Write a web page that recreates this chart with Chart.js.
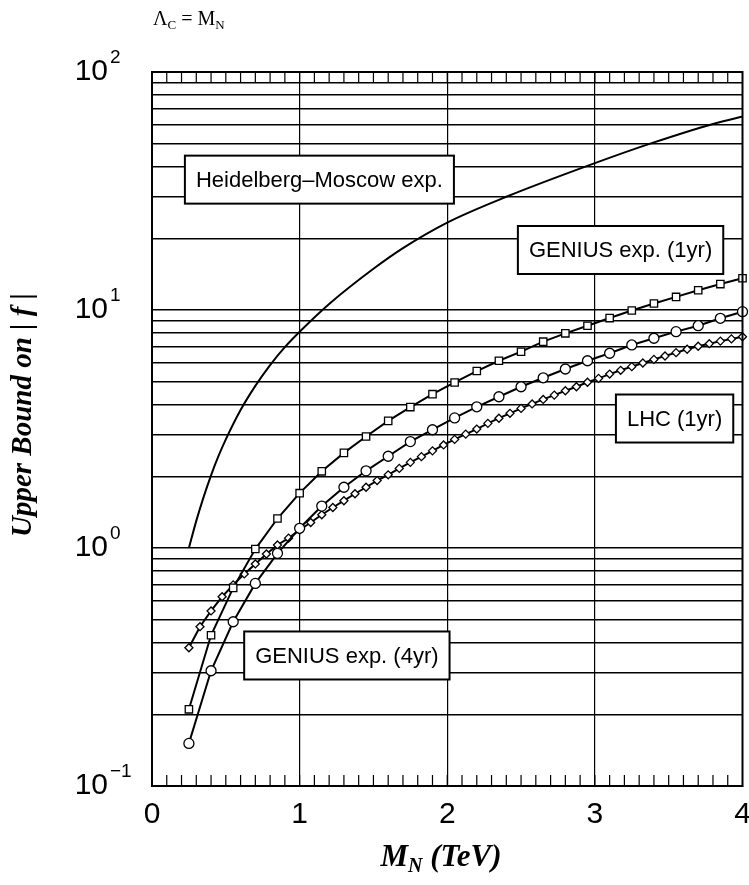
<!DOCTYPE html>
<html><head><meta charset="utf-8">
<script src="https://cdn.jsdelivr.net/npm/chart.js@4.4.1/dist/chart.umd.min.js"></script>
<style>html,body{margin:0;padding:0;background:#fff;overflow:hidden;} canvas{display:block;}</style>
</head><body>
<canvas id="c" width="749" height="885"></canvas>
<script>
// ---- data ----
const massHM = [0.25,0.30,0.35,0.40,0.45,0.50,0.60,0.70,0.80,0.90,1.00,1.20,1.50,1.70,2.00,2.40,3.00,3.40,3.80,4.00];
const boundHM = [1.0,1.30,1.64,2.02,2.43,2.86,3.80,4.80,5.87,6.98,8.1,10.6,14.9,18.2,23.3,29.9,41.4,50.6,60.5,65];

const massGenius = [0.25,0.40,0.55,0.70,0.85,1.00,1.15,1.30,1.45,1.60,1.75,1.90,2.05,2.20,2.35,2.50,2.65,2.80,2.95,3.10,3.25,3.40,3.55,3.70,3.85,4.00];
const boundGenius1yr = [0.21,0.43,0.68,0.99,1.33,1.70,2.10,2.51,2.94,3.42,3.91,4.43,4.96,5.54,6.12,6.68,7.36,7.98,8.59,9.25,9.95,10.65,11.35,12.1,12.85,13.6];
const boundGenius4yr = [0.151,0.305,0.49,0.71,0.95,1.21,1.50,1.80,2.11,2.43,2.80,3.14,3.52,3.92,4.32,4.76,5.19,5.65,6.12,6.58,7.13,7.61,8.11,8.59,9.23,9.84];

const massLHC = [0.25,0.325,0.40,0.475,0.55,0.625,0.70,0.775,0.85,0.925,1.00,1.075,1.15,1.225,1.30,1.375,1.45,1.525,1.60,1.675,1.75,1.825,1.90,1.975,2.05,2.125,2.20,2.275,2.35,2.425,2.50,2.575,2.65,2.725,2.80,2.875,2.95,3.025,3.10,3.175,3.25,3.325,3.40,3.475,3.55,3.625,3.70,3.775,3.85,3.925,4.00];
const boundLHC = [0.381,0.467,0.544,0.624,0.70,0.778,0.857,0.944,1.03,1.10,1.19,1.28,1.38,1.48,1.58,1.69,1.80,1.92,2.03,2.16,2.29,2.42,2.56,2.71,2.86,3.01,3.16,3.34,3.51,3.68,3.86,4.03,4.21,4.39,4.58,4.76,4.97,5.16,5.38,5.58,5.78,5.99,6.20,6.41,6.62,6.84,7.04,7.22,7.40,7.56,7.72];

const xTickLabels = ['0','1','2','3','4'];
const yGridValues = [0.1,0.2,0.3,0.4,0.5,0.6,0.7,0.8,0.9,1,2,3,4,5,6,7,8,9,10,20,30,40,50,60,70,80,90,100];
const yDecades = [0.1,1,10,100];
const yExponents = ['\u22121','0','1','2'];

const boxLabels = [
  {text:'Heidelberg\u2013Moscow exp.', x:1.134, y:35.3},
  {text:'GENIUS exp. (1yr)', x:3.174, y:17.87},
  {text:'LHC (1yr)', x:3.54, y:3.50},
  {text:'GENIUS exp. (4yr)', x:1.32, y:0.3535}
];

// ---- helpers ----
const pts = (xs, ys) => xs.map((m, i) => ({x: m, y: ys[i]}));
const SANS = 'Liberation Sans, Arial, Helvetica, sans-serif';
const SERIF = 'Liberation Serif, Times New Roman, serif';
const Y_LABEL_PAD = 44;

const deco = {
  id: 'deco',
  beforeDraw(chart) {
    const c = chart.ctx;
    c.save(); c.fillStyle = '#fff'; c.fillRect(0, 0, chart.width, chart.height); c.restore();
  },
  afterDraw(chart) {
    const c = chart.ctx, a = chart.chartArea, xs = chart.scales.x, ys = chart.scales.y;
    c.save();
    // frame
    c.strokeStyle = '#000'; c.lineWidth = 2;
    c.strokeRect(a.left, a.top, a.right - a.left, a.bottom - a.top);
    // inward minor ticks on top and bottom
    c.lineWidth = 1.2;
    for (let i = 1; i < 40; i++) {
      const px = xs.getPixelForValue(i / 10);
      c.beginPath();
      c.moveTo(px, a.bottom); c.lineTo(px, a.bottom - 11);
      c.moveTo(px, a.top); c.lineTo(px, a.top + 11);
      c.stroke();
    }
    // exponents of y tick labels
    c.fillStyle = '#000';
    c.font = '19px ' + SANS;
    c.textAlign = 'left'; c.textBaseline = 'middle';
    yDecades.forEach((v, i) => {
      const py = ys.getPixelForValue(v);
      c.fillText(yExponents[i], a.left - Y_LABEL_PAD + 2, py - 14);
    });
    // y axis title
    c.save();
    c.translate(24, 415); c.rotate(-Math.PI / 2);
    c.font = 'italic bold 29px ' + SERIF;
    c.textAlign = 'center'; c.textBaseline = 'middle';
    c.fillText('Upper Bound on | f |', 0, 0);
    c.restore();
    // x axis title  M_N (TeV)
    const tf = 'italic bold 31px ' + SERIF, sf = 'italic bold 20px ' + SERIF;
    c.textAlign = 'left'; c.textBaseline = 'alphabetic';
    c.font = tf; const wM = c.measureText('M').width;
    c.font = sf; const wN = c.measureText('N').width;
    c.font = tf; const wR = c.measureText(' (TeV)').width;
    let tx = 441 - (wM + wN + wR) / 2; const ty = 866;
    c.font = tf; c.fillText('M', tx, ty); tx += wM;
    c.font = sf; c.fillText('N', tx, ty + 6); tx += wN;
    c.font = tf; c.fillText(' (TeV)', tx, ty);
    // header  Λ_C = M_N
    const hf = '20px ' + SERIF, hs = '13px ' + SERIF;
    let hx = 153; const hy = 25;
    c.font = hf; c.fillText('\u039B', hx, hy); hx += c.measureText('\u039B').width;
    c.font = hs; c.fillText('C', hx, hy + 4); hx += c.measureText('C').width;
    c.font = hf; c.fillText(' = M', hx, hy); hx += c.measureText(' = M').width;
    c.font = hs; c.fillText('N', hx, hy + 4);
    // label boxes
    c.font = '22px ' + SANS;
    c.textAlign = 'center'; c.textBaseline = 'middle';
    boxLabels.forEach(b => {
      const cx = xs.getPixelForValue(b.x), cy = ys.getPixelForValue(b.y);
      const w = c.measureText(b.text).width + 22, h = 48;
      c.fillStyle = '#fff';
      c.fillRect(cx - w / 2, cy - h / 2, w, h);
      c.lineWidth = 2; c.strokeStyle = '#000';
      c.strokeRect(cx - w / 2, cy - h / 2, w, h);
      c.fillStyle = '#000';
      c.fillText(b.text, cx, cy + 1);
    });
    c.restore();
  }
};

const markerCommon = {borderColor: '#000', borderWidth: 2, pointBackgroundColor: '#fff', pointBorderColor: '#000', pointBorderWidth: 1.3, tension: 0, clip: false, fill: false};

new Chart(document.getElementById('c'), {
  type: 'line',
  data: {
    datasets: [
      {label: 'Heidelberg\u2013Moscow exp.', data: pts(massHM, boundHM), borderColor: '#000', borderWidth: 2, pointRadius: 0, cubicInterpolationMode: 'monotone', fill: false},
      Object.assign({label: 'GENIUS exp. (1yr)', data: pts(massGenius, boundGenius1yr), pointStyle: 'rect', pointRadius: 5.2}, markerCommon),
      Object.assign({label: 'GENIUS exp. (4yr)', data: pts(massGenius, boundGenius4yr), pointStyle: 'circle', pointRadius: 5}, markerCommon),
      Object.assign({label: 'LHC (1yr)', data: pts(massLHC, boundLHC), pointStyle: 'rectRot', pointRadius: 4}, markerCommon)
    ]
  },
  options: {
    responsive: false, animation: false, devicePixelRatio: 1,
    layout: {padding: {top: 72, right: 6, bottom: 0, left: 0}},
    plugins: {legend: {display: false}, tooltip: {enabled: false}},
    scales: {
      x: {
        type: 'linear', min: 0, max: 4,
        ticks: {stepSize: 1, autoSkip: false, maxRotation: 0, color: '#000', padding: 11,
                font: {family: SANS, size: 30},
                callback: (v) => xTickLabels[Math.round(v)] ?? ''},
        grid: {color: (ctx) => (ctx.tick && ctx.tick.value > 0 && ctx.tick.value < 4) ? '#000' : 'rgba(0,0,0,0)', lineWidth: 1.2, drawTicks: false},
        border: {display: true, color: '#000', width: 2},
        afterFit: (s) => { s.height = 99; s.paddingLeft = 0; s.paddingRight = 0; }
      },
      y: {
        type: 'logarithmic', min: 0.1, max: 100,
        afterBuildTicks: (s) => { s.ticks = yGridValues.map(v => ({value: v})); },
        ticks: {autoSkip: false, color: '#000', padding: Y_LABEL_PAD,
                font: {family: SANS, size: 30},
                callback: (v) => yDecades.includes(v) ? '10' : ''},
        grid: {color: '#000', lineWidth: 1.6, drawTicks: false},
        border: {display: true, color: '#000', width: 2},
        afterFit: (s) => { s.width = 152; s.paddingTop = 0; s.paddingBottom = 0; }
      }
    }
  },
  plugins: [deco]
});
</script>
</body></html>
